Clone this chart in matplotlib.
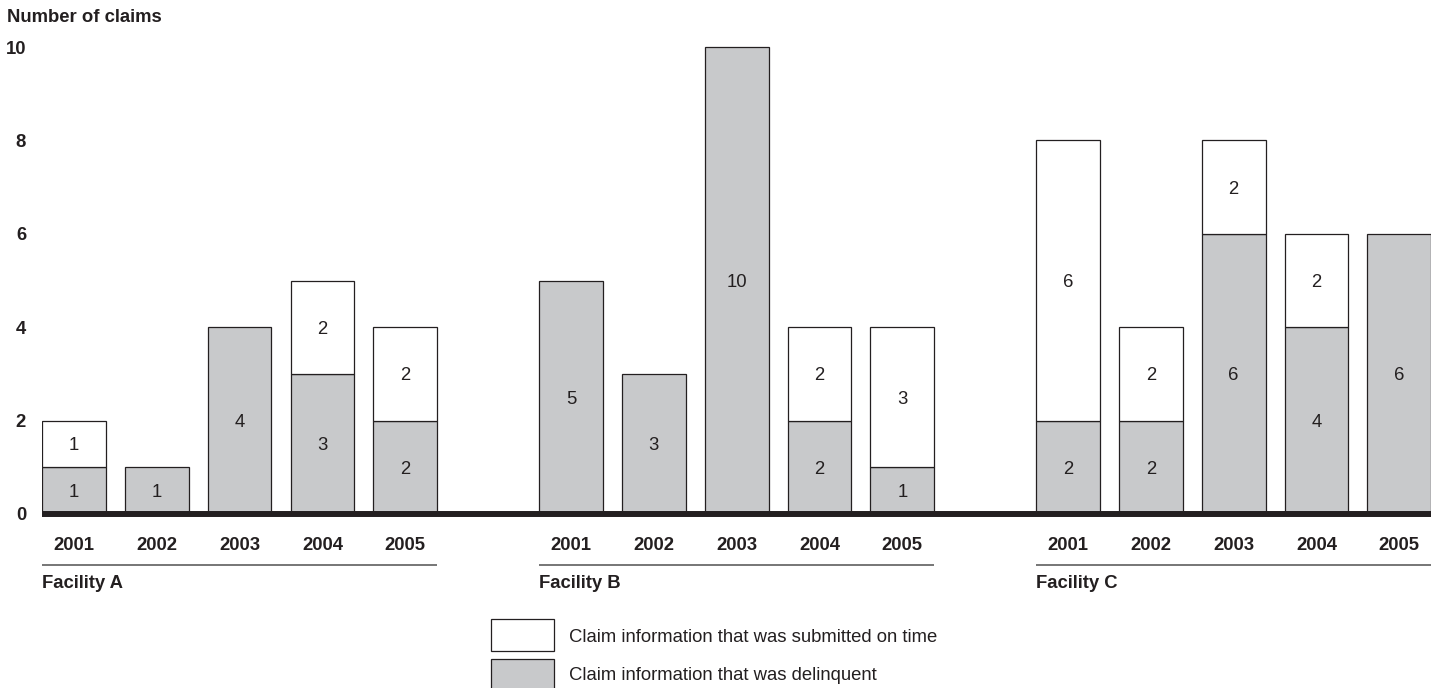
import matplotlib
matplotlib.use("Agg")
import matplotlib.pyplot as plt
from matplotlib.patches import Rectangle

plt.rcParams["font.family"] = ["Liberation Sans", "DejaVu Sans"]

# Claims per facility and year
facilities = ["Facility A", "Facility B", "Facility C"]
years = ["2001", "2002", "2003", "2004", "2005"]
delinquent = {
    "Facility A": [1, 1, 4, 3, 2],
    "Facility B": [5, 3, 10, 2, 1],
    "Facility C": [2, 2, 6, 4, 6],
}
on_time = {
    "Facility A": [1, 0, 0, 2, 2],
    "Facility B": [0, 0, 0, 2, 3],
    "Facility C": [6, 2, 2, 2, 0],
}
y_ticks = [0, 2, 4, 6, 8, 10]
legend_labels = ["Claim information that was submitted on time",
                 "Claim information that was delinquent"]

INK = "#231f20"
GRAY = "#c8c9cb"
RULE = "#6b6b6b"
FS = 13.3

W, H = 1439, 688
fig = plt.figure(figsize=(W / 100, H / 100), dpi=100)

def fx(px):
    return px / W

def fy(py):
    return 1 - py / H

# axes placed so that the edges of the first and last bars touch the frame
bar_w = 0.77
slot = 82.84  # pixels per category slot
x0_px, base_px, top_px = 42, 514, 37
unit_px = 46.7
n_slots = 17
ax_w_px = (n_slots - 1 + bar_w) * slot
ax = fig.add_axes([fx(x0_px), fy(base_px), ax_w_px / W, (base_px - top_px) / H])
ax.set_xlim(-bar_w / 2, n_slots - 1 + bar_w / 2)
ax.set_ylim(0, (base_px - top_px) / unit_px)

tick_pos, tick_lab = [], []
for g, fac in enumerate(facilities):
    start = g * 6
    pos = [start + i for i in range(len(years))]
    for i, p in enumerate(pos):
        d = delinquent[fac][i]
        t = on_time[fac][i]
        if d:
            ax.bar(p, d, width=bar_w, color=GRAY, edgecolor=INK, linewidth=0.9, zorder=2)
            ax.text(p, d / 2, str(d), ha="center", va="center_baseline",
                    fontsize=FS, color=INK, zorder=3)
        if t:
            ax.bar(p, t, bottom=d, width=bar_w, color="white", edgecolor=INK,
                   linewidth=0.9, zorder=2)
            ax.text(p, d + t / 2, str(t), ha="center", va="center_baseline",
                    fontsize=FS, color=INK, zorder=3)
        tick_pos.append(p)
        tick_lab.append(years[i])
    # group rule and facility name beneath the year labels
    left, right = pos[0] - bar_w / 2, pos[-1] + bar_w / 2
    ax.plot([left, right], [-(565 - base_px) / unit_px] * 2, color=RULE,
            linewidth=1.3, clip_on=False, solid_capstyle="butt")
    ax.text(left, -(581 - base_px) / unit_px, fac, ha="left", va="center_baseline",
            fontsize=FS, fontweight="bold", color=INK, clip_on=False)

ax.set_xticks(tick_pos, tick_lab)
ax.set_yticks(y_ticks, [str(v) for v in y_ticks])
ax.tick_params(axis="x", length=0, pad=16.5, labelsize=FS, labelcolor=INK)
ax.tick_params(axis="y", length=0, pad=11.5, labelsize=FS, labelcolor=INK)
for lab in ax.get_xticklabels() + ax.get_yticklabels():
    lab.set_fontweight("bold")

for side in ("top", "right", "left"):
    ax.spines[side].set_visible(False)
ax.spines["bottom"].set_linewidth(4.3)
ax.spines["bottom"].set_color(INK)
ax.spines["bottom"].set_capstyle("butt")
ax.spines["bottom"].set_zorder(4)

fig.text(fx(7), fy(15), "Number of claims", ha="left", va="center_baseline",
         fontsize=FS, fontweight="bold", color=INK)

# legend swatches
for (top, bottom, face), label, text_y in zip(
        [(619, 651, "white"), (659, 691, GRAY)], legend_labels, [635, 673]):
    fig.add_artist(Rectangle((fx(491), fy(bottom)), fx(554) - fx(491),
                             fy(top) - fy(bottom), transform=fig.transFigure,
                             facecolor=face, edgecolor=INK, linewidth=0.9))
    fig.text(fx(569), fy(text_y), label, ha="left", va="center_baseline",
             fontsize=FS, color=INK)

fig.savefig("out.png", dpi=100)
